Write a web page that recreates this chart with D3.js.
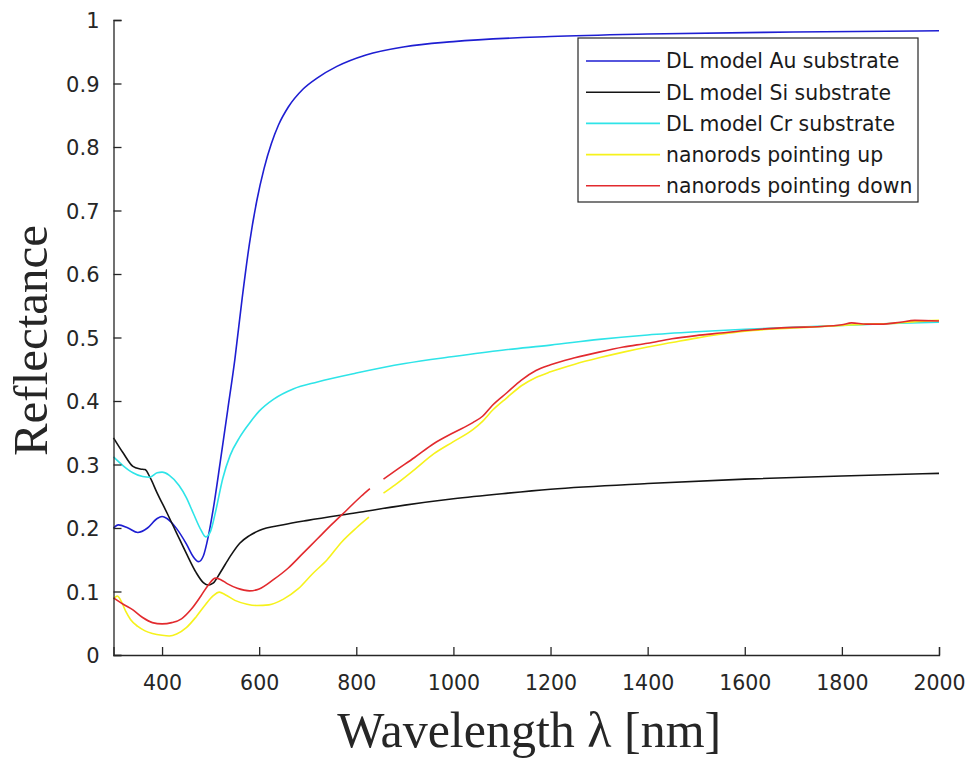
<!DOCTYPE html>
<html>
<head>
<meta charset="utf-8">
<script src="https://cdn.jsdelivr.net/npm/d3@7"></script>
<style>
  html, body { margin: 0; padding: 0; background: #fff; }
  svg { display: block; }
</style>
</head>
<body>
<svg id="chart" width="971" height="758"></svg>
<script>
// Reflectance spectra: [wavelength (nm), reflectance]; null marks a gap in the measurement
const auModel = [
  [300,0.200],[310,0.205],[330,0.200],[350,0.193],[370,0.200],[390,0.215],[400,0.218],
  [410,0.215],[430,0.199],[450,0.175],[465,0.154],[475,0.147],[485,0.156],[495,0.186],
  [505,0.228],[520,0.305],[535,0.385],[550,0.466],[565,0.562],[580,0.648],[595,0.715],
  [610,0.766],[625,0.805],[640,0.835],[660,0.863],[690,0.891],[720,0.909],[760,0.927],
  [820,0.945],[900,0.958],[1000,0.966],[1200,0.974],[1400,0.978],[1700,0.981],[2000,0.983]
];
const siModel = [
  [300,0.342],[320,0.318],[340,0.297],[355,0.293],[365,0.292],[375,0.280],[390,0.255],
  [410,0.224],[430,0.192],[450,0.160],[470,0.130],[485,0.114],[495,0.110],[505,0.113],
  [520,0.130],[540,0.155],[560,0.176],[580,0.188],[600,0.196],[650,0.205],[700,0.212],
  [800,0.224],[900,0.236],[1000,0.246],[1100,0.254],[1200,0.261],[1400,0.270],
  [1600,0.277],[1800,0.282],[2000,0.286]
];
const crModel = [
  [300,0.312],[320,0.298],[340,0.287],[360,0.281],[375,0.280],[390,0.287],[400,0.288],
  [415,0.283],[435,0.267],[450,0.248],[465,0.222],[480,0.197],[490,0.186],[500,0.195],
  [510,0.225],[525,0.278],[540,0.314],[560,0.343],[580,0.365],[600,0.384],[630,0.403],
  [670,0.419],[720,0.430],[800,0.444],[900,0.459],[1000,0.470],[1100,0.480],[1200,0.488],
  [1300,0.497],[1400,0.504],[1500,0.509],[1600,0.513],[1700,0.516],[1800,0.519],
  [1900,0.522],[2000,0.524]
];
const rodsUp = [
  [300,0.088],[308,0.093],[315,0.086],[325,0.069],[335,0.056],[350,0.045],[365,0.038],
  [380,0.034],[400,0.031],[415,0.030],[430,0.033],[450,0.043],[470,0.060],[490,0.080],
  [505,0.093],[518,0.099],[530,0.095],[550,0.086],[575,0.080],[595,0.078],[620,0.079],
  [650,0.088],[680,0.104],[710,0.128],[740,0.150],[770,0.178],[800,0.200],[826,0.217],
  null,
  [856,0.255],[880,0.268],[920,0.292],[960,0.317],[1000,0.336],[1040,0.355],[1060,0.368],
  [1080,0.385],[1110,0.405],[1140,0.424],[1170,0.437],[1200,0.446],[1250,0.458],
  [1300,0.468],[1350,0.477],[1400,0.485],[1450,0.492],[1500,0.499],[1550,0.505],
  [1600,0.510],[1650,0.513],[1700,0.515],[1750,0.517],[1800,0.519],[1850,0.521],
  [1900,0.522],[1950,0.525],[2000,0.527]
];
const rodsDown = [
  [300,0.090],[320,0.080],[340,0.071],[360,0.059],[380,0.051],[400,0.049],[420,0.051],
  [440,0.057],[460,0.072],[480,0.093],[495,0.110],[510,0.121],[520,0.119],[535,0.112],
  [555,0.105],[580,0.101],[600,0.104],[630,0.119],[660,0.137],[690,0.160],[720,0.183],
  [750,0.206],[780,0.228],[810,0.250],[828,0.262],
  null,
  [856,0.277],[880,0.290],[920,0.311],[960,0.333],[1000,0.350],[1040,0.366],[1060,0.376],
  [1080,0.393],[1110,0.413],[1140,0.433],[1170,0.448],[1200,0.457],[1250,0.468],
  [1300,0.477],[1350,0.485],[1400,0.491],[1450,0.498],[1500,0.503],[1550,0.507],
  [1600,0.511],[1650,0.514],[1700,0.516],[1750,0.517],[1800,0.520],[1820,0.523],
  [1850,0.521],[1880,0.521],[1920,0.524],[1950,0.527],[2000,0.526]
];

const seriesNames = [
  "DL model Au substrate",
  "DL model Si substrate",
  "DL model Cr substrate",
  "nanorods pointing up",
  "nanorods pointing down"
];
const seriesColors = ["#1e1ed2", "#141414", "#2ee4e8", "#f6f21c", "#e22a2e"];
const seriesData = [auModel, siModel, crModel, rodsUp, rodsDown];

const xTicks = [400, 600, 800, 1000, 1200, 1400, 1600, 1800, 2000];
const yTicks = [0, 0.1, 0.2, 0.3, 0.4, 0.5, 0.6, 0.7, 0.8, 0.9, 1];

const svg = d3.select("#chart");
const plot = { left: 113.5, right: 939, top: 20, bottom: 655 };

const x = d3.scaleLinear().domain([300, 2000]).range([plot.left, plot.right]);
const y = d3.scaleLinear().domain([0, 1]).range([plot.bottom, plot.top]);

const axisColor = "#262626";
const labelFont = "'DejaVu Sans', Verdana, sans-serif";
const titleFont = "'Liberation Serif', 'Times New Roman', serif";

// Curves
const line = d3.line()
  .defined(d => d !== null)
  .x(d => x(d[0]))
  .y(d => y(d[1]))
  .curve(d3.curveMonotoneX);

svg.append("g").attr("class", "curves")
  .selectAll("path")
  .data(seriesData)
  .join("path")
  .attr("d", d => line(d))
  .attr("fill", "none")
  .attr("stroke", (d, i) => seriesColors[i])
  .attr("stroke-width", 1.6)
  .attr("stroke-linejoin", "round");

// Axes with inward ticks
const xAxis = svg.append("g")
  .attr("transform", `translate(0,${plot.bottom})`)
  .call(d3.axisBottom(x).tickValues(xTicks).tickSizeInner(-8).tickSizeOuter(-8)
        .tickPadding(20).tickFormat(d3.format("d")));
const yAxis = svg.append("g")
  .attr("transform", `translate(${plot.left},0)`)
  .call(d3.axisLeft(y).tickValues(yTicks).tickSizeInner(-8).tickSizeOuter(-8)
        .tickPadding(14).tickFormat(d => d === 0 || d === 1 ? d3.format("d")(d) : d3.format(".1f")(d)));

[xAxis, yAxis].forEach(g => {
  g.select(".domain").attr("stroke", axisColor).attr("stroke-width", 1.3);
  g.selectAll(".tick line").attr("stroke", axisColor).attr("stroke-width", 1.3);
  g.selectAll(".tick text")
    .attr("fill", axisColor)
    .style("font-family", labelFont)
    .style("font-size", "21px");
});
xAxis.selectAll(".tick text").style("font-size", "20.5px");
yAxis.selectAll(".tick text").attr("dy", "0.36em");

// Axis titles
svg.append("text")
  .attr("x", (plot.left + plot.right) / 2 + 3)
  .attr("y", 747)
  .attr("text-anchor", "middle")
  .style("font-family", titleFont)
  .style("font-size", "50px")
  .attr("fill", axisColor)
  .text("Wavelength λ [nm]");

svg.append("text")
  .attr("transform", `translate(47,${(plot.top + plot.bottom) / 2 + 3}) rotate(-90)`)
  .attr("text-anchor", "middle")
  .style("font-family", titleFont)
  .style("font-size", "49px")
  .attr("fill", axisColor)
  .text("Reflectance");

// Legend
const legend = svg.append("g").attr("class", "legend");
const legendBox = { x: 578, y: 38, w: 340, h: 164 };
legend.append("rect")
  .attr("x", legendBox.x).attr("y", legendBox.y)
  .attr("width", legendBox.w).attr("height", legendBox.h)
  .attr("fill", "#fff").attr("stroke", axisColor).attr("stroke-width", 1.2);

const rowStart = 61, rowStep = 31.2;
const rows = legend.selectAll("g.row")
  .data(seriesNames)
  .join("g")
  .attr("class", "row")
  .attr("transform", (d, i) => `translate(0,${rowStart + i * rowStep})`);
rows.append("line")
  .attr("x1", 586).attr("x2", 660)
  .attr("stroke", (d, i) => seriesColors[i])
  .attr("stroke-width", 1.6);
rows.append("text")
  .attr("x", 666)
  .attr("dy", "0.36em")
  .style("font-family", labelFont)
  .style("font-size", "20.4px")
  .attr("fill", "#1a1a1a")
  .text(d => d);
</script>
</body>
</html>
